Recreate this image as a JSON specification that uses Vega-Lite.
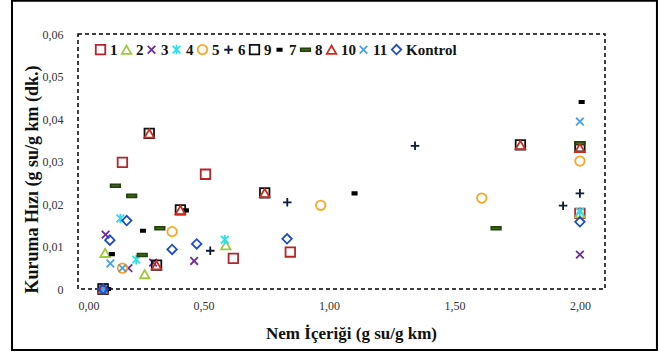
{
  "$schema": "https://vega.github.io/schema/vega-lite/v6.json",
  "width": 527,
  "height": 255,
  "autosize": {"type": "none"},
  "padding": {"left": 78, "top": 34, "right": 55, "bottom": 64},
  "background": "white",
  "config": {
    "font": "Liberation Serif",
    "view": {"stroke": "black", "strokeDash": [4, 3], "strokeWidth": 1.5},
    "axis": {"grid": false, "ticks": false, "domain": false, "labelFont": "Liberation Serif", "labelFontSize": 12, "labelColor": "#333", "titleFont": "Liberation Serif", "titleFontWeight": "bold", "titleColor": "#111"},
    "legend": {"labelFont": "Liberation Serif", "labelFontSize": 15, "labelFontWeight": "bold", "labelColor": "#111", "symbolStrokeWidth": 1.8, "symbolSize": 90, "labelOffset": 2, "columnPadding": 0, "padding": 0}
  },
  "layer": [
    {
      "data": {"values": [{}]},
      "mark": {"type": "rect", "fill": "transparent", "stroke": "black", "strokeWidth": 2, "clip": false},
      "encoding": {
        "x": {"datum": -0.263, "type": "quantitative", "scale": {"domain": [0, 2.1], "nice": false, "zero": false}},
        "x2": {"datum": 2.307},
        "y": {"datum": 0.0678, "type": "quantitative", "scale": {"domain": [0, 0.06], "nice": false}},
        "y2": {"datum": -0.01435}
      }
    },
    {
      "data": {"values": [
        {"s": "1", "x": 0.1, "y": 0},
        {"s": "1", "x": 0.177, "y": 0.0298},
        {"s": "1", "x": 0.508, "y": 0.027},
        {"s": "1", "x": 0.619, "y": 0.0072},
        {"s": "1", "x": 0.846, "y": 0.0087},
        {"s": "1", "x": 2.0, "y": 0.0178},
        {"s": "2", "x": 0.1, "y": 0},
        {"s": "2", "x": 0.108, "y": 0.0085},
        {"s": "2", "x": 0.266, "y": 0.0035},
        {"s": "2", "x": 0.589, "y": 0.0103},
        {"s": "2", "x": 2.0, "y": 0.0178},
        {"s": "3", "x": 0.1, "y": 0},
        {"s": "3", "x": 0.11, "y": 0.0128},
        {"s": "3", "x": 0.201, "y": 0.0049},
        {"s": "3", "x": 0.299, "y": 0.0062},
        {"s": "3", "x": 0.463, "y": 0.0066},
        {"s": "3", "x": 2.0, "y": 0.0081},
        {"s": "4", "x": 0.1, "y": 0},
        {"s": "4", "x": 0.169, "y": 0.0166},
        {"s": "4", "x": 0.232, "y": 0.0069},
        {"s": "4", "x": 0.585, "y": 0.0116},
        {"s": "4", "x": 2.0, "y": 0.0182},
        {"s": "5", "x": 0.1, "y": 0},
        {"s": "5", "x": 0.177, "y": 0.0049},
        {"s": "5", "x": 0.375, "y": 0.0135},
        {"s": "5", "x": 0.967, "y": 0.0197},
        {"s": "5", "x": 1.609, "y": 0.0214},
        {"s": "5", "x": 2.0, "y": 0.0301},
        {"s": "6", "x": 0.527, "y": 0.009},
        {"s": "6", "x": 0.834, "y": 0.0204},
        {"s": "6", "x": 1.343, "y": 0.0337},
        {"s": "6", "x": 1.933, "y": 0.0196},
        {"s": "6", "x": 2.0, "y": 0.0225},
        {"s": "9", "x": 0.1, "y": 0},
        {"s": "9", "x": 0.284, "y": 0.0366},
        {"s": "9", "x": 0.313, "y": 0.0056},
        {"s": "9", "x": 0.408, "y": 0.0186},
        {"s": "9", "x": 0.744, "y": 0.0226},
        {"s": "9", "x": 1.763, "y": 0.0339},
        {"s": "9", "x": 2.0, "y": 0.0335},
        {"s": "7", "x": 0.12, "y": 0},
        {"s": "7", "x": 0.135, "y": 0.0082},
        {"s": "7", "x": 0.259, "y": 0.0137},
        {"s": "7", "x": 0.43, "y": 0.0185},
        {"s": "7", "x": 1.102, "y": 0.0225},
        {"s": "7", "x": 2.007, "y": 0.044},
        {"s": "8", "x": 0.149, "y": 0.0243},
        {"s": "8", "x": 0.214, "y": 0.0219},
        {"s": "8", "x": 0.256, "y": 0.008},
        {"s": "8", "x": 0.326, "y": 0.0143},
        {"s": "8", "x": 1.666, "y": 0.0143},
        {"s": "8", "x": 2.0, "y": 0.0343},
        {"s": "10", "x": 0.1, "y": 0},
        {"s": "10", "x": 0.284, "y": 0.0366},
        {"s": "10", "x": 0.313, "y": 0.0056},
        {"s": "10", "x": 0.408, "y": 0.0186},
        {"s": "10", "x": 0.744, "y": 0.0226},
        {"s": "10", "x": 1.763, "y": 0.0339},
        {"s": "10", "x": 2.0, "y": 0.0332},
        {"s": "11", "x": 0.1, "y": 0},
        {"s": "11", "x": 0.129, "y": 0.006},
        {"s": "11", "x": 0.177, "y": 0.0049},
        {"s": "11", "x": 2.0, "y": 0.0394},
        {"s": "Kontrol", "x": 0.1, "y": 0},
        {"s": "Kontrol", "x": 0.127, "y": 0.0115},
        {"s": "Kontrol", "x": 0.194, "y": 0.0161},
        {"s": "Kontrol", "x": 0.375, "y": 0.0093},
        {"s": "Kontrol", "x": 0.473, "y": 0.0106},
        {"s": "Kontrol", "x": 0.833, "y": 0.0118},
        {"s": "Kontrol", "x": 2.0, "y": 0.0158}
      ]},
      "mark": {"type": "point", "filled": false, "strokeWidth": 1.8, "size": 90, "opacity": 1, "clip": false},
      "encoding": {
        "x": {"field": "x", "type": "quantitative",
          "scale": {"domain": [0, 2.1], "nice": false, "zero": false},
          "axis": {"values": [0, 0.5, 1, 1.5, 2], "labelExpr": "replace(format(datum.value, '.2f'), '.', ',')", "labelPadding": 11, "title": "Nem İçeriği (g su/g km)", "titleFontSize": 17, "titleX": 273, "titleY": 44, "titleBaseline": "middle"}},
        "y": {"field": "y", "type": "quantitative",
          "scale": {"domain": [0, 0.06], "nice": false},
          "axis": {"values": [0, 0.01, 0.02, 0.03, 0.04, 0.05, 0.06], "labelExpr": "datum.value == 0 ? '0' : replace(format(datum.value, '.2f'), '.', ',')", "labelPadding": 15, "title": "Kuruma Hızı (g su/g km (dk.)", "titleFontSize": 18, "titleX": -46, "titleY": 145, "titleBaseline": "middle", "titleAlign": "center", "titleAngle": 270}},
        "shape": {"field": "s", "type": "nominal",
          "scale": {"domain": ["1", "2", "3", "4", "5", "6", "9", "7", "8", "10", "11", "Kontrol"],
            "range": ["square", "triangle-up", "M-0.8,-0.8L0.8,0.8M-0.8,0.8L0.8,-0.8", "M-0.8,-0.8L0.8,0.8M-0.8,0.8L0.8,-0.8M0,-1L0,1", "circle", "M-0.9,0L0.9,0M0,-0.9L0,0.9", "square", "M-0.45,-0.25L0.45,-0.25L0.45,0.25L-0.45,0.25Z", "M-1,-0.3L1,-0.3L1,0.3L-1,0.3Z", "triangle-up", "M-0.8,-0.8L0.8,0.8M-0.8,0.8L0.8,-0.8", "diamond"]},
          "legend": {"title": null, "orient": "none", "direction": "horizontal", "legendX": 15, "legendY": 8}},
        "stroke": {"field": "s", "type": "nominal",
          "scale": {"domain": ["1", "2", "3", "4", "5", "6", "9", "7", "8", "10", "11", "Kontrol"],
            "range": ["#B8242A", "#9CCB3B", "#6A2C9E", "#2FDDEB", "#FFA524", "#0E1A38", "#111111", "#000000", "#24410C", "#D02A1E", "#4AA0F0", "#1E4DC6"]},
          "legend": {"title": null, "orient": "none", "direction": "horizontal", "legendX": 15, "legendY": 8}},
        "fill": {"field": "s", "type": "nominal",
          "scale": {"domain": ["1", "2", "3", "4", "5", "6", "9", "7", "8", "10", "11", "Kontrol"],
            "range": ["transparent", "transparent", "transparent", "transparent", "transparent", "transparent", "transparent", "#000000", "#4A7E1C", "transparent", "transparent", "transparent"]},
          "legend": {"title": null, "orient": "none", "direction": "horizontal", "legendX": 15, "legendY": 8}}
      }
    }
  ]
}
